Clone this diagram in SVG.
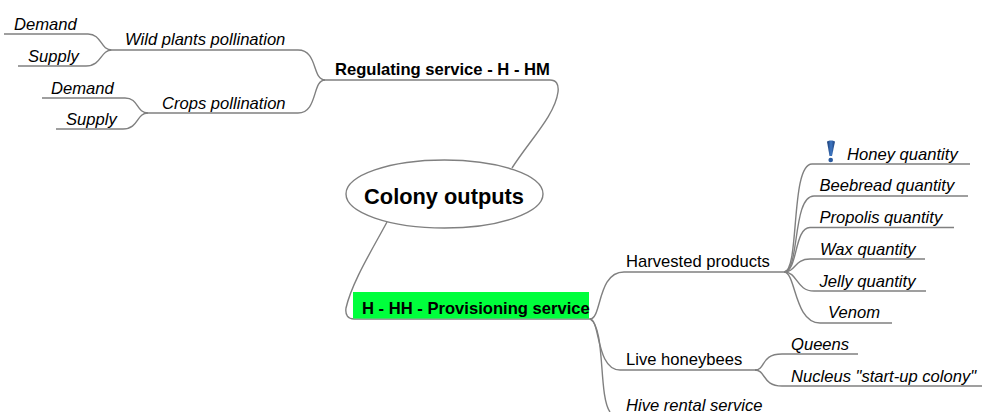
<svg xmlns="http://www.w3.org/2000/svg" width="982" height="412" viewBox="0 0 982 412">
<style>
.c{fill:none;stroke:#808080;stroke-width:1.4}
text{font-family:"Liberation Sans",Arial,sans-serif;font-size:16.6px;fill:#000}
.i{font-style:italic}
.b{font-weight:bold;font-size:16.6px}
</style>
<defs>
<linearGradient id="ex" x1="0" x2="1" y1="0" y2="0"><stop offset="0" stop-color="#16376f"/><stop offset=".5" stop-color="#3f78c4"/><stop offset="1" stop-color="#1b3f7a"/></linearGradient>
</defs>
<g id="connectors">
<path class="c" d="M4 34H88C102 34 100 50 112 50C100 50 102 66 86 66H18"/>
<path class="c" d="M112 50H298C318 50 312 80 325 80C312 80 318 113 298 113H146"/>
<path class="c" d="M42 98H125C139 98 136 113 148 113C136 113 139 129 123 129H56"/>
<path class="c" d="M323 80H550C556 80 559 84 558 92C555 115 530 140 512 168"/>
<path class="c" d="M387 222C372 250 352 282 346 308C345 315 348 319 354 319H592"/>
<path class="c" d="M590 319C602 319 597 272 624 272H788"/>
<path class="c" d="M590 319C600 319 596 370 620 370H757"/>
<path class="c" d="M590 319C606 328 598 395 610 412"/>
<path class="c" d="M784 272C800 272 790 164 812 164H970"/>
<path class="c" d="M784 272C800 272 792 196 814 196H968"/>
<path class="c" d="M784 272C798 272 794 227.500 810 227.500H954"/>
<path class="c" d="M784 272C796 272 794 259 810 259H925"/>
<path class="c" d="M784 272C798 272 796 291 814 291H926"/>
<path class="c" d="M784 272C796 272 794 323 820 323H892"/>
<path class="c" d="M755 370C766 370 760 354 782 354H858"/>
<path class="c" d="M755 370C766 370 762 386 782 386H982"/>
</g>
<g id="root"><ellipse cx="444.500" cy="194" rx="98.500" ry="34" fill="#fff" stroke="#808080" stroke-width="1.400"/><text x="444" y="204" text-anchor="middle" style="font-size:21.8px;font-weight:bold">Colony outputs</text></g>
<g id="regulating"><text class="b" x="335" y="74.500">Regulating service - H - HM</text></g>
<g id="provisioning"><rect x="353" y="292" width="236" height="26.500" fill="#00ff3c"/><text class="b" x="362" y="313.500">H - HH - Provisioning service</text></g>
<g id="wild"><text class="i" x="125" y="44.500">Wild plants pollination</text></g>
<g id="crops"><text class="i" x="162" y="108.500">Crops pollination</text></g>
<g id="demand1"><text class="i" x="14" y="29.500">Demand</text></g>
<g id="supply1"><text class="i" x="28" y="61.500">Supply</text></g>
<g id="demand2"><text class="i" x="51" y="93.500">Demand</text></g>
<g id="supply2"><text class="i" x="66" y="124.500">Supply</text></g>
<g id="harvested"><text x="626" y="266.500">Harvested products</text></g>
<g id="live"><text x="626" y="364.500">Live honeybees</text></g>
<g id="hive"><text class="i" x="626" y="411">Hive rental service</text></g>
<g id="honey"><path d="M827 141.500C829 140 833 140 835 141.500L832 156H829.500Z" fill="url(#ex)"/><circle cx="830.700" cy="160" r="2.300" fill="#2b5a9e"/><text class="i" x="847" y="159.500">Honey quantity</text></g>
<g id="beebread"><text class="i" x="819.500" y="191">Beebread quantity</text></g>
<g id="propolis"><text class="i" x="819.500" y="222.500">Propolis quantity</text></g>
<g id="wax"><text class="i" x="820" y="254.500">Wax quantity</text></g>
<g id="jelly"><text class="i" x="819.500" y="286.500">Jelly quantity</text></g>
<g id="venom"><text class="i" x="828" y="317.500">Venom</text></g>
<g id="queens"><text class="i" x="791" y="349.500">Queens</text></g>
<g id="nucleus"><text class="i" x="791" y="381.500">Nucleus "start-up colony"</text></g>
</svg>
